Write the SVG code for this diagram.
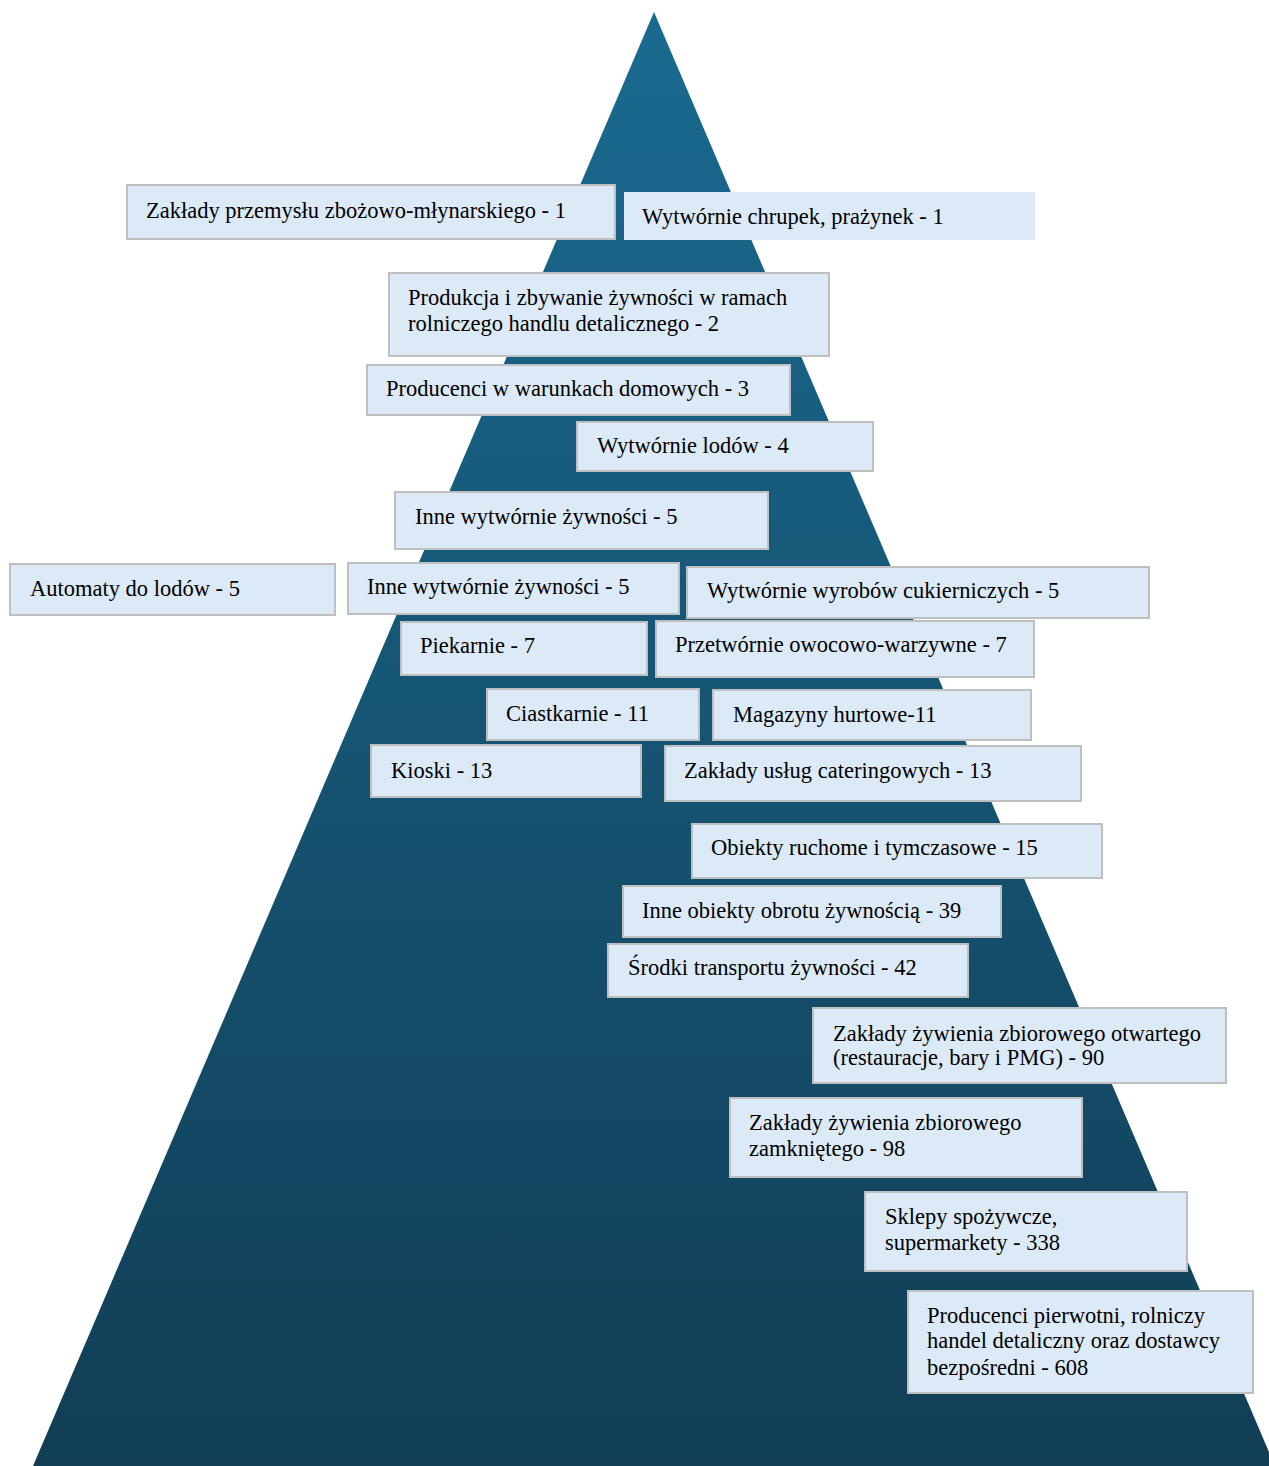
<svg xmlns="http://www.w3.org/2000/svg" width="1269" height="1466" viewBox="0 0 1269 1466">
<defs>
<linearGradient id="pg" x1="0" y1="0" x2="0" y2="1">
<stop offset="0" stop-color="#1a6a90"/>
<stop offset="1" stop-color="#113e55"/>
</linearGradient>
</defs>
<style>
.b{fill:#dce9f6;stroke:#bfbfbf;stroke-width:2}
.nb{fill:#dce9f6;stroke:none}
text{font-family:"Liberation Serif","Times New Roman",serif;font-size:22.5px;fill:#000}
</style>
<rect width="1269" height="1466" fill="#fff"/>
<g id="pyramid"><polygon points="654,12 33,1466 1275,1466" fill="url(#pg)"/></g>
<g id="connectors"></g>
<g id="n1"><rect class="b" x="127" y="185" width="488" height="54"/><text x="146" y="218">Zakłady przemysłu zbożowo-młynarskiego - 1</text></g>
<g id="n2"><rect class="nb" x="624" y="192" width="411" height="48"/><text x="642" y="224">Wytwórnie chrupek, prażynek - 1</text></g>
<g id="n3"><rect class="b" x="389" y="273" width="440" height="83"/><text x="408" y="305">Produkcja i zbywanie żywności w ramach</text><text x="408" y="331">rolniczego handlu detalicznego - 2</text></g>
<g id="n4"><rect class="b" x="367" y="365" width="423" height="50"/><text x="386" y="396">Producenci w warunkach domowych - 3</text></g>
<g id="n5"><rect class="b" x="577" y="422" width="296" height="49"/><text x="597" y="453">Wytwórnie lodów - 4</text></g>
<g id="n6"><rect class="b" x="395" y="492" width="373" height="57"/><text x="415" y="524">Inne wytwórnie żywności - 5</text></g>
<g id="n7"><rect class="b" x="10" y="564" width="325" height="51"/><text x="30" y="596">Automaty do lodów - 5</text></g>
<g id="n8"><rect class="b" x="348" y="563" width="331" height="51"/><text x="367" y="594">Inne wytwórnie żywności - 5</text></g>
<g id="n9"><rect class="b" x="687" y="567" width="462" height="51"/><text x="707" y="598">Wytwórnie wyrobów cukierniczych - 5</text></g>
<g id="n10"><rect class="b" x="401" y="622" width="246" height="53"/><text x="420" y="653">Piekarnie - 7</text></g>
<g id="n11"><rect class="b" x="656" y="621" width="378" height="56"/><text x="675" y="652">Przetwórnie owocowo-warzywne - 7</text></g>
<g id="n12"><rect class="b" x="487" y="689" width="212" height="51"/><text x="506" y="721">Ciastkarnie - 11</text></g>
<g id="n13"><rect class="b" x="713" y="690" width="318" height="50"/><text x="733" y="722">Magazyny hurtowe-11</text></g>
<g id="n14"><rect class="b" x="371" y="745" width="270" height="52"/><text x="391" y="778">Kioski - 13</text></g>
<g id="n15"><rect class="b" x="665" y="746" width="416" height="55"/><text x="684" y="778">Zakłady usług cateringowych - 13</text></g>
<g id="n16"><rect class="b" x="692" y="824" width="410" height="54"/><text x="711" y="855">Obiekty ruchome i tymczasowe - 15</text></g>
<g id="n17"><rect class="b" x="623" y="886" width="378" height="51"/><text x="642" y="918">Inne obiekty obrotu żywnością - 39</text></g>
<g id="n18"><rect class="b" x="608" y="944" width="360" height="53"/><text x="628" y="975">Środki transportu żywności - 42</text></g>
<g id="n19"><rect class="b" x="813" y="1008" width="413" height="75"/><text x="833" y="1041">Zakłady żywienia zbiorowego otwartego</text><text x="833" y="1065">(restauracje, bary i PMG) - 90</text></g>
<g id="n20"><rect class="b" x="730" y="1098" width="352" height="79"/><text x="749" y="1130">Zakłady żywienia zbiorowego</text><text x="749" y="1156">zamkniętego - 98</text></g>
<g id="n21"><rect class="b" x="865" y="1192" width="322" height="79"/><text x="885" y="1224">Sklepy spożywcze,</text><text x="885" y="1250">supermarkety - 338</text></g>
<g id="n22"><rect class="b" x="908" y="1291" width="345" height="102"/><text x="927" y="1323">Producenci pierwotni, rolniczy</text><text x="927" y="1348">handel detaliczny oraz dostawcy</text><text x="927" y="1375">bezpośredni - 608</text></g>
</svg>
